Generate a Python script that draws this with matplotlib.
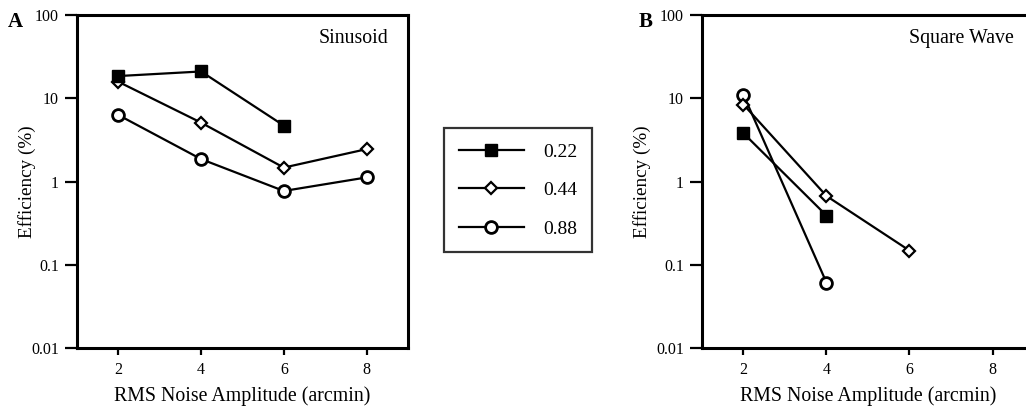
import matplotlib
matplotlib.use("Agg")
import matplotlib.pyplot as plt
from matplotlib.ticker import FixedLocator, FixedFormatter, NullLocator

plt.rcParams["font.family"] = ["Liberation Serif", "DejaVu Serif"]

noise = [2, 4, 6, 8]
labels = ["0.22", "0.44", "0.88"]

# panel A - sinusoid
sin_022 = [18.5, 21.0, 4.7]
sin_044 = [15.8, 5.1, 1.47, 2.45]
sin_088 = [6.3, 1.86, 0.77, 1.12]

# panel B - square wave
sq_022 = [3.8, 0.39]
sq_044 = [8.4, 0.67, 0.148]
sq_088 = [11.0, 0.061]

yticks = [0.01, 0.1, 1, 10, 100]
ytick_labels = ["0.01", "0.1", "1", "10", "100"]

fig = plt.figure(figsize=(10.26, 4.07), dpi=100)
axA = fig.add_axes([0.0750, 0.145, 0.3226, 0.818])
axB = fig.add_axes([0.6842, 0.145, 0.3236, 0.818])

def style(ax, name, letter, lx, ylx):
  ax.set_yscale("log")
  ax.set_ylim(0.01, 100)
  ax.set_xlim(1, 9)
  ax.yaxis.set_major_locator(FixedLocator(yticks))
  ax.yaxis.set_major_formatter(FixedFormatter(ytick_labels))
  ax.yaxis.set_minor_locator(NullLocator())
  ax.set_xticks(noise)
  for s in ax.spines.values():
    s.set_linewidth(2.2)
  ax.tick_params(axis="y", direction="out", length=9, width=1.6, pad=4, labelsize=11.5)
  ax.tick_params(axis="x", direction="out", length=5, width=1.6, pad=5, labelsize=11.5)
  ax.set_xlabel("RMS Noise Amplitude (arcmin)", fontsize=14.3, labelpad=6)
  ax.set_ylabel("Efficiency (%)", fontsize=13.8)
  ax.yaxis.set_label_coords(ylx, 0.5)
  ax.text(0.94, 0.93, name, transform=ax.transAxes, ha="right", va="center", fontsize=14.3)
  fig.text(lx, 0.945, letter, ha="center", va="center", fontsize=15, fontweight="bold")

sq_kw = dict(color="black", lw=1.6, marker="s", ms=8, mfc="black", mec="black")
di_kw = dict(color="black", lw=1.6, marker="D", ms=6.5, mfc="white", mec="black", mew=1.6)
ci_kw = dict(color="black", lw=1.6, marker="o", ms=8.5, mfc="white", mec="black", mew=2)

axA.plot(noise, sin_088, **ci_kw)
axA.plot(noise, sin_044, **di_kw)
axA.plot(noise[:3], sin_022, **sq_kw)
style(axA, "Sinusoid", "A", 15.5 / 1026, -0.125)

axB.plot(noise[:2], sq_088, **ci_kw)
axB.plot(noise[:3], sq_044, **di_kw)
axB.plot(noise[:2], sq_022, **sq_kw)
style(axB, "Square Wave", "B", 645.5 / 1026, -0.155)

h1, = axA.plot([], [], **sq_kw)
h2, = axA.plot([], [], **di_kw)
h3, = axA.plot([], [], **ci_kw)
leg = fig.legend([h1, h2, h3], labels, loc="center", bbox_to_anchor=(0.5049, 0.532),
                 frameon=True, fancybox=False, fontsize=14, handlelength=3.35,
                 handletextpad=1.0, labelspacing=1.06, borderpad=0.77, borderaxespad=0)
leg.get_frame().set_edgecolor("black")
leg.get_frame().set_linewidth(1.6)

fig.savefig("out.png", dpi=100)
